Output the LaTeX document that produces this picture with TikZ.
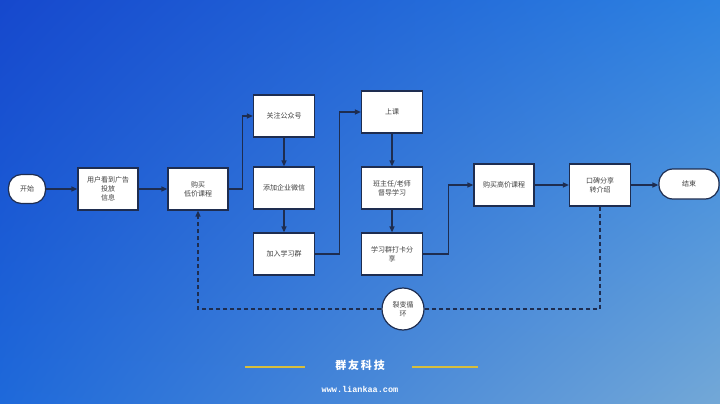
\documentclass[tikz,border=0pt]{standalone}
\usepackage{fontspec}
\setmainfont{Noto Sans CJK SC}
\newfontfamily\mono{Liberation Mono}
\usetikzlibrary{arrows.meta,shadings}
\definecolor{ul}{RGB}{22,72,205}
\definecolor{ur}{RGB}{45,130,225}
\definecolor{ll}{RGB}{30,105,218}
\definecolor{lr}{RGB}{115,168,215}
\definecolor{edge}{RGB}{30,45,80}
\definecolor{gold}{RGB}{215,190,60}
\begin{document}
\begin{tikzpicture}[x=1pt,y=-1pt,
  box/.style={draw=edge,line width=1.2pt,fill=white,minimum width=60pt,minimum height=42pt,align=center,font=\fontsize{7}{9}\selectfont,text=black!75},
  term/.style={box,rounded corners=13pt},
  arr/.style={draw=edge,line width=1.2pt,-{Triangle[length=6pt,width=5pt]}},
  dashline/.style={draw=edge,line width=1.2pt,dash pattern=on 4pt off 3pt}]
\useasboundingbox (0,0) rectangle (720,404);
\shade[upper left=ul,upper right=ur,lower left=ll,lower right=lr] (0,0) rectangle (720,404);
\node[term,minimum width=37pt,minimum height=29pt] (start) at (27,189) {开始};
\node[box] (ad) at (108,189) {用户看到广告\\投放\\信息};
\node[box] (low) at (198,189) {购买\\低价课程};
\node[box,minimum width=61pt] (gz) at (284,116) {关注公众号};
\node[box,minimum width=61pt] (wx) at (284,188) {添加企业微信};
\node[box,minimum width=61pt] (grp) at (284,254) {加入学习群};
\node[box,minimum width=61pt] (cls) at (392,112) {上课};
\node[box,minimum width=61pt] (sup) at (392,188) {班主任/老师\\督导学习};
\node[box,minimum width=61pt] (share) at (392,254) {学习群打卡分\\享};
\node[box] (high) at (504,185) {购买高价课程};
\node[box,minimum width=61pt] (ref) at (600,185) {口碑分享\\转介绍};
\node[term,minimum width=60pt,minimum height=30pt,rounded corners=14pt] (end) at (689,184) {结束};
\node[draw=edge,line width=1.2pt,fill=white,circle,minimum size=42pt,inner sep=0pt,align=center,font=\fontsize{7}{9}\selectfont,text=black!75] (loop) at (403,309) {裂变循\\环};
\draw[arr] (start) -- (ad);
\draw[arr] (ad) -- (low);
\draw[arr] (low.east) -- ++(14,0) |- (gz.west);
\draw[arr] (gz) -- (wx);
\draw[arr] (wx) -- (grp);
\draw[arr] (grp.east) -- ++(24,0) |- (cls.west);
\draw[arr] (cls) -- (sup);
\draw[arr] (sup) -- (share);
\draw[arr] (share.east) -- ++(25,0) |- (high.west);
\draw[arr] (high) -- (ref);
\draw[arr] (ref.east) -- (ref.east -| end.west);
\draw[dashline] (ref.south) |- (loop.east);
\draw[dashline,-{Triangle[length=6pt,width=5pt]}] (loop.west) -| (low.south);
\node[text=white,font=\bfseries\fontsize{11}{13}\selectfont] (brand) at (360,365) {群\,友\,科\,技};
\draw[gold,line width=2.5pt] (245,367) -- (305,367) (412,367) -- (478,367);
\node[text=white,font=\mono\bfseries\fontsize{8.5}{10}\selectfont] (url) at (360,389) {www.liankaa.com};
\end{tikzpicture}
\end{document}
